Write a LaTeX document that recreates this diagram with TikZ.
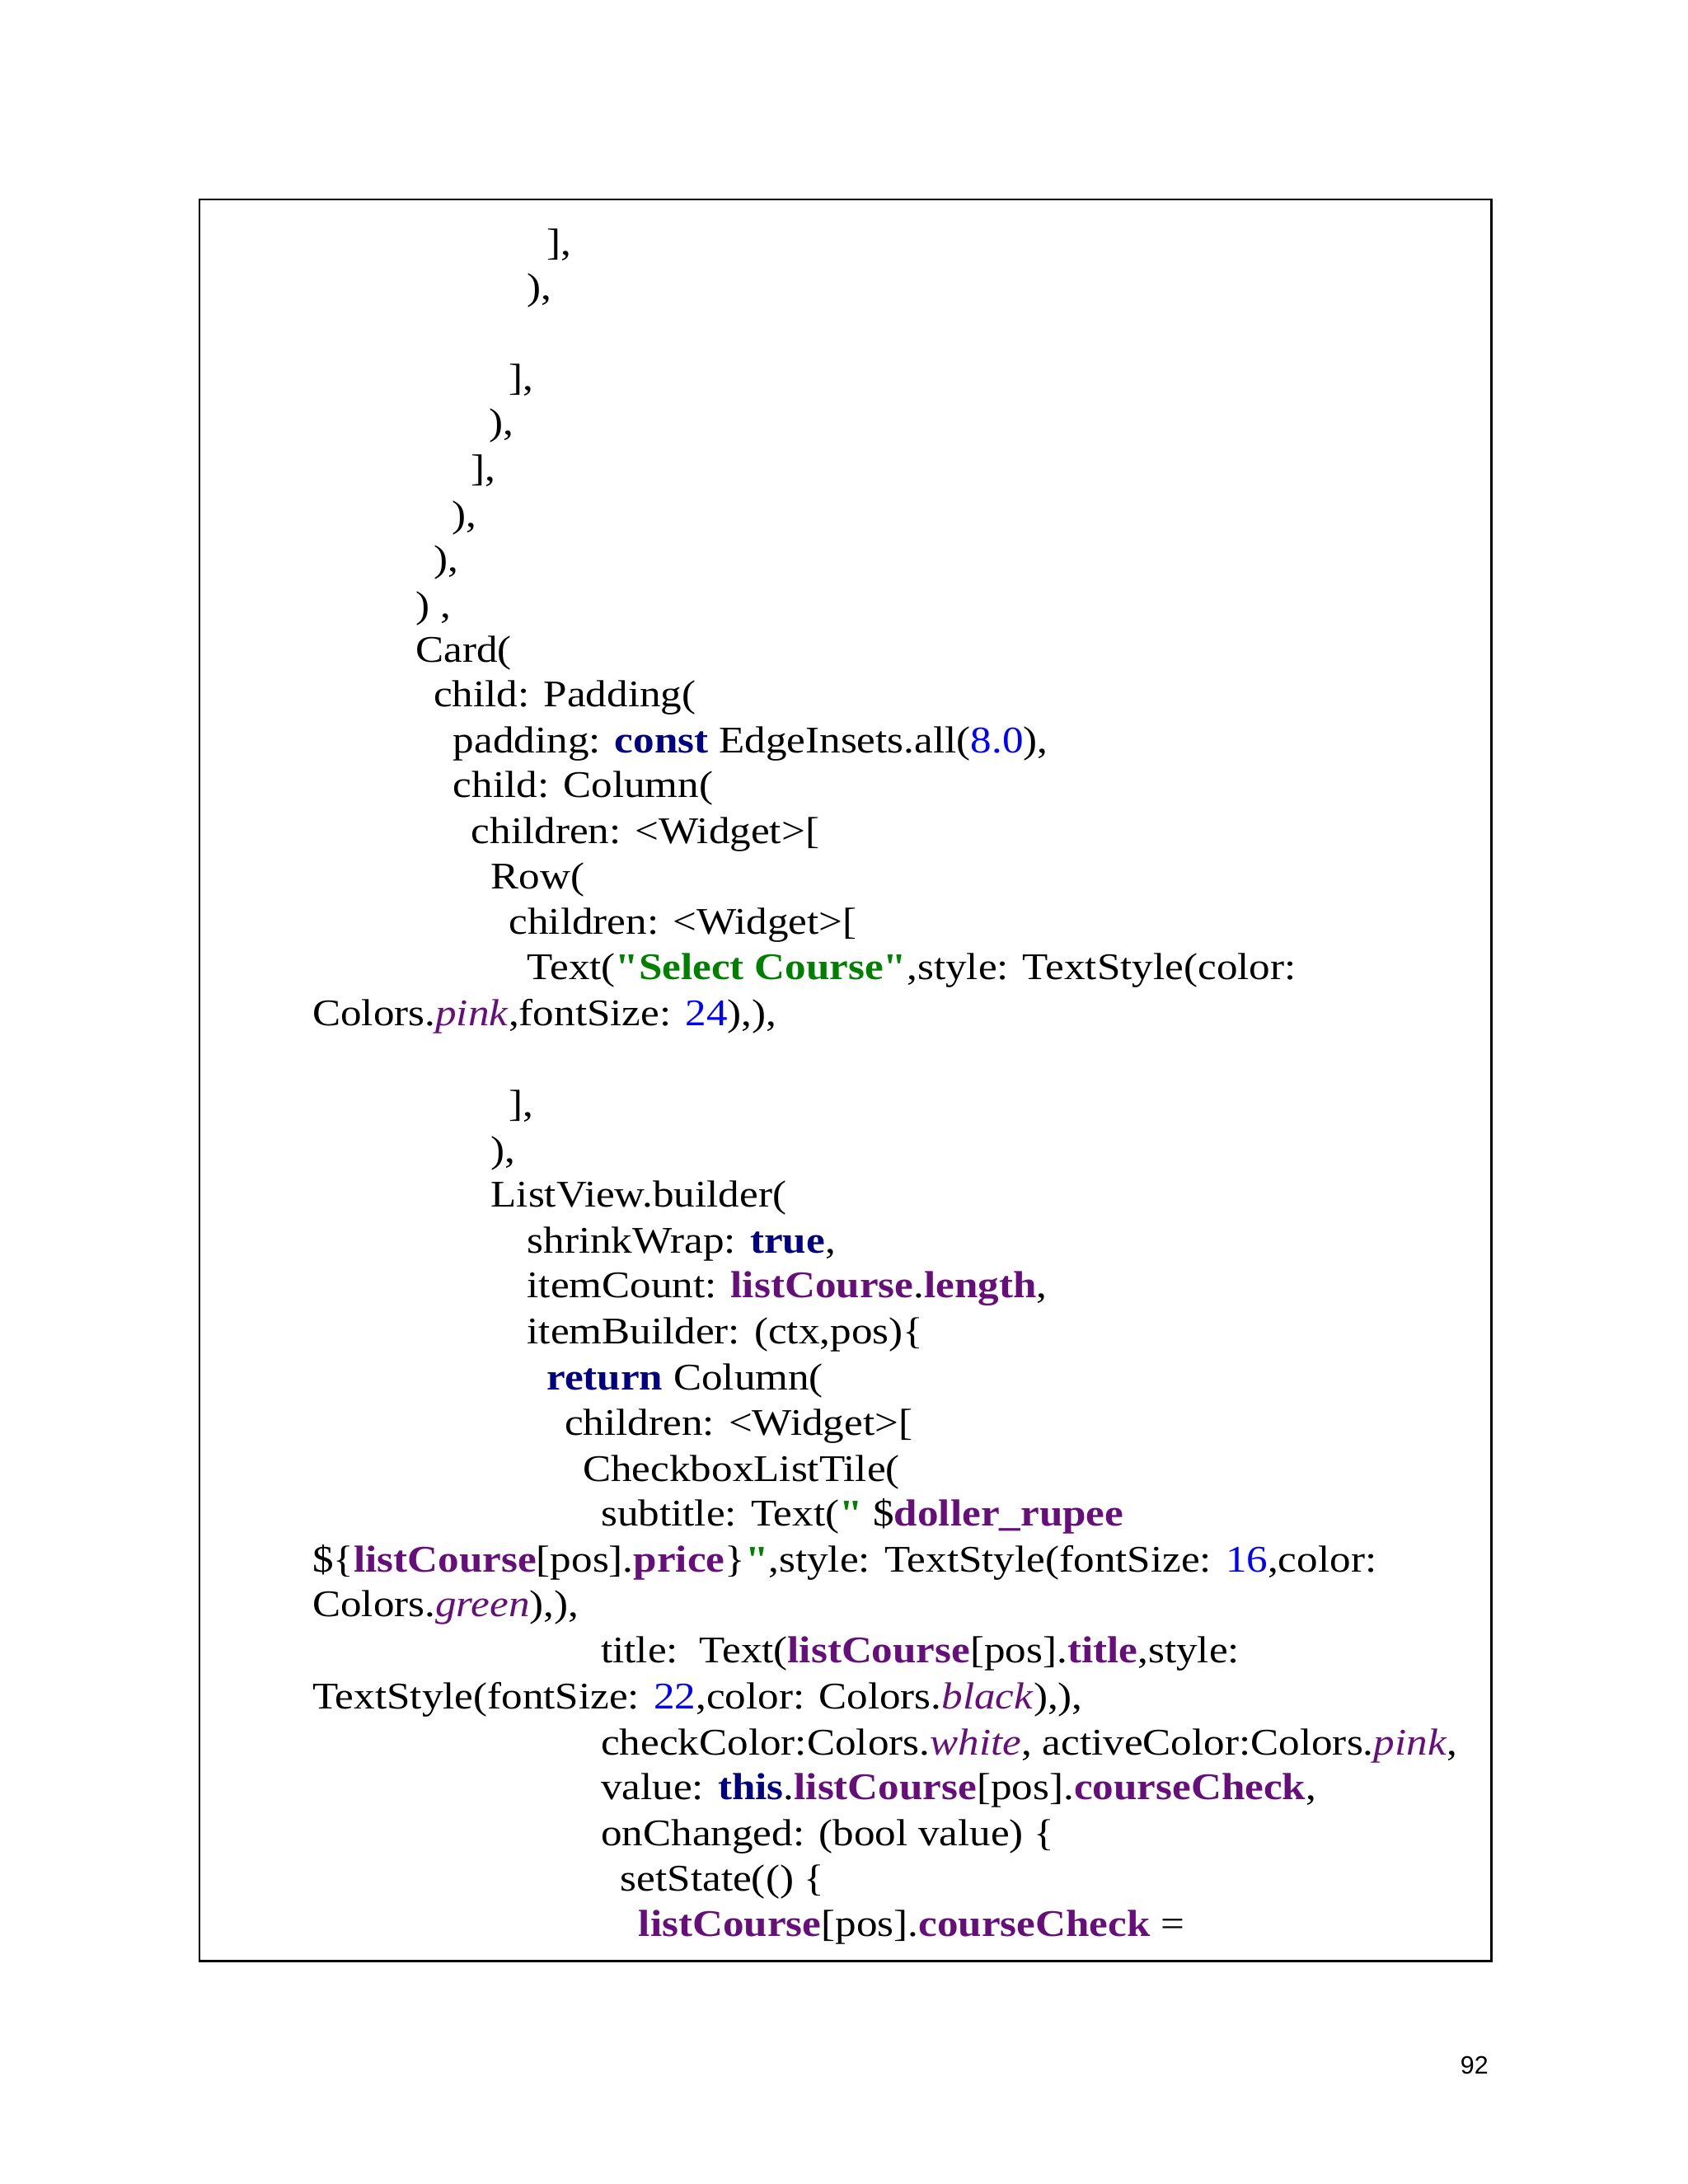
\documentclass[tikz,border=0pt]{standalone}
\usepackage{fontspec}
\setmainfont{Liberation Serif}
\newfontfamily\codefont[FakeStretch=1.12]{Liberation Serif}
\newfontfamily\pgnum{Liberation Sans}
\definecolor{kwc}{RGB}{0,0,128}
\definecolor{fdc}{RGB}{102,14,122}
\definecolor{nmc}{RGB}{0,0,255}
\definecolor{stc}{RGB}{0,128,0}
\newcommand{\kw}[1]{\textcolor{kwc}{\textbf{#1}}}
\newcommand{\fd}[1]{\textcolor{fdc}{\textbf{#1}}}
\newcommand{\cl}[1]{\textcolor{fdc}{\textit{#1}}}
\newcommand{\nm}[1]{\textcolor{nmc}{#1}}
\newcommand{\st}[1]{\textcolor{stc}{\textbf{#1}}}
\newcommand{\qq}{\symbol{34}}
\begin{document}
\begin{tikzpicture}[x=1pt,y=-1pt,
  code/.style={anchor=base west,inner sep=0pt,font=\codefont\fontsize{27}{30}\selectfont}]
\useasboundingbox (0,0) rectangle (1211,1567);
\fill[white] (0,0) rectangle (1211,1567);
\draw[line width=1.3pt] (143,143) rectangle (1070,1407);
\foreach \x/\y/\t [count=\i] in {
392/174/{],},
378/206/{),},
365/271/{],},
351/303/{),},
338/336/{],},
324/369/{),},
311/401/{),},
298/434/{) ,},
298/466/{Card(},
311/498/{child: Padding(},
325/531/{padding: \kw{const} EdgeInsets.all(\nm{8.0}),},
325/563/{child: Column(},
338/596/{children: <Widget>[},
352/629/{Row(},
365/661/{children: <Widget>[},
378/694/{Text(\st{\qq Select Course\qq},style: TextStyle(color:},
224/727/{Colors.\cl{pink},fontSize: \nm{24}),),},
365/792/{],},
352/825/{),},
352/857/{ListView.builder(},
378/890/{shrinkWrap: \kw{true},},
378/922/{itemCount: \fd{listCourse}.\fd{length},},
378/955/{itemBuilder: (ctx,pos)\{},
392/988/{\kw{return} Column(},
405/1021/{children: <Widget>[},
418/1054/{CheckboxListTile(},
431/1086/{subtitle: Text(\st{\qq} \$\fd{doller\_rupee}},
224/1119/{\$\{\fd{listCourse}[pos].\fd{price}\}\st{\qq},style: TextStyle(fontSize: \nm{16},color:},
224/1151/{Colors.\cl{green}),),},
431/1184/{title:\ \ Text(\fd{listCourse}[pos].\fd{title},style:},
224/1217/{TextStyle(fontSize: \nm{22},color: Colors.\cl{black}),),},
431/1250/{checkColor:Colors.\cl{white}, activeColor:Colors.\cl{pink},},
431/1282/{value: \kw{this}.\fd{listCourse}[pos].\fd{courseCheck},},
431/1315/{onChanged: (bool value) \{},
445/1348/{setState(() \{},
458/1380/{\fd{listCourse}[pos].\fd{courseCheck} =}
}{
  \node[code] (l\i) at (\x,\y+9) {\t};
}
\node[anchor=base east,inner sep=0pt,font=\pgnum\fontsize{18}{20}\selectfont] (pg) at (1068,1488) {92};
\end{tikzpicture}
\end{document}
